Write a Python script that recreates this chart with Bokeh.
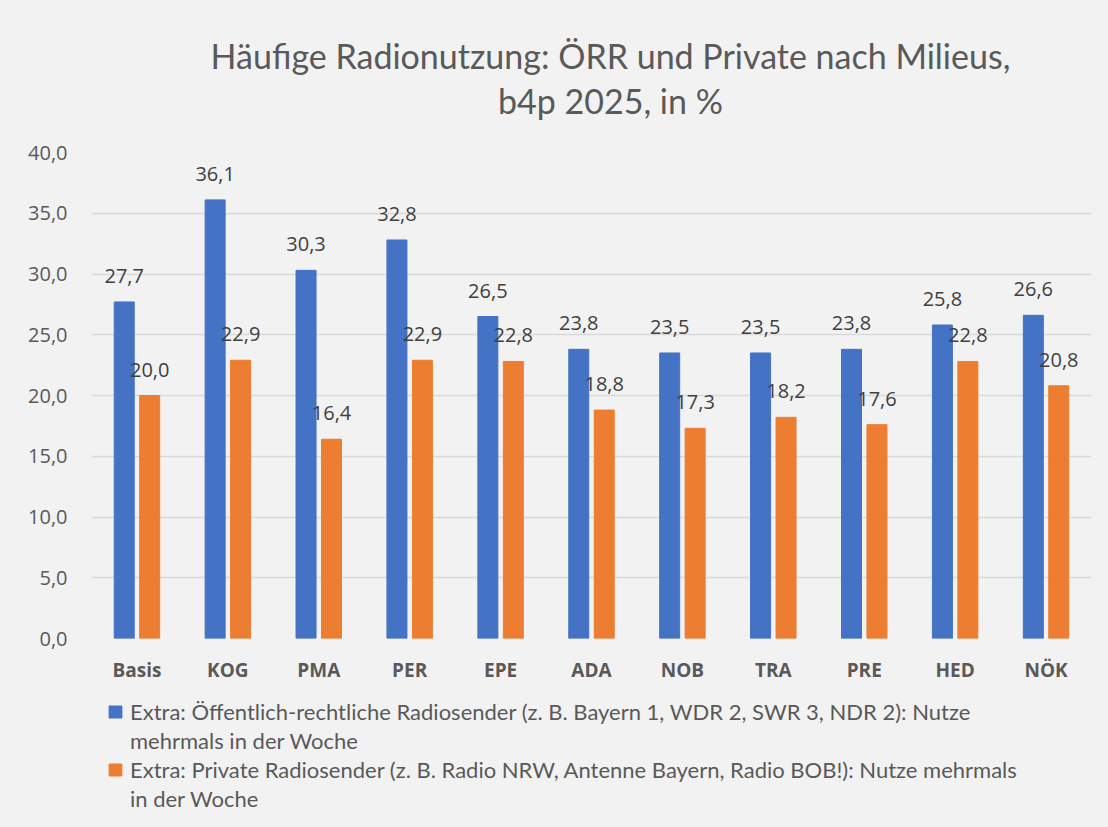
from bokeh.plotting import figure
from bokeh.models import ColumnDataSource, FactorRange, FixedTicker, Legend, LegendItem, Label
from bokeh.layouts import column
from bokeh.transform import dodge
from bokeh.embed import file_html
from bokeh.resources import INLINE
from bokeh.core.properties import value

categories = ["Basis", "KOG", "PMA", "PER", "EPE", "ADA", "NOB", "TRA", "PRE", "HED", "NÖK"]
oerr = [27.7, 36.1, 30.3, 32.8, 26.5, 23.8, 23.5, 23.5, 23.8, 25.8, 26.6]
private = [20.0, 22.9, 16.4, 22.9, 22.8, 18.8, 17.3, 18.2, 17.6, 22.8, 20.8]
y_ticks = [0, 5, 10, 15, 20, 25, 30, 35, 40]
y_tick_labels = ["0,0", "5,0", "10,0", "15,0", "20,0", "25,0", "30,0", "35,0", "40,0"]
series_lines = [
    ["Extra: Öffentlich-rechtliche Radiosender (z. B. Bayern 1, WDR 2, SWR 3, NDR 2): Nutze",
     "mehrmals in der Woche"],
    ["Extra: Private Radiosender (z. B. Radio NRW, Antenne Bayern, Radio BOB!): Nutze mehrmals",
     "in der Woche"],
]
title_lines = ["Häufige Radionutzung: ÖRR und Private nach Milieus,", "b4p 2025, in %"]

def fmt(v):
    return f"{v:.1f}".replace(".", ",")

src = ColumnDataSource(dict(
    cat=categories,
    oerr=oerr,
    private=private,
    oerr_lbl=[fmt(v) for v in oerr],
    private_lbl=[fmt(v) for v in private],
))

BG = "#f2f2f2"
TXT = "#595959"
BLUE = "#4472C4"
ORANGE = "#ED7D31"
W = 1108

def strip(h):
    f = figure(width=W, height=h, x_range=(0, 1), y_range=(0, h),
               output_backend="svg", toolbar_location=None,
               min_border=0, min_border_left=0, min_border_right=0,
               min_border_top=0, min_border_bottom=0)
    f.background_fill_color = BG
    f.border_fill_color = BG
    f.outline_line_color = None
    f.axis.visible = False
    f.grid.visible = False
    f.styles = {"background-color": BG}
    return f

# ---- title strip
p0 = strip(120)
for txt, yy in zip(title_lines, [65, 20]):
    p0.add_layout(Label(x=0.519, y=yy, text=txt, text_align="center", text_baseline="alphabetic",
                        text_font="Lato", text_font_size="34px", text_color=TXT))

# ---- main chart
p = figure(
    x_range=FactorRange(*categories, range_padding=0),
    y_range=(0, 40),
    width=W, height=578,
    output_backend="svg", toolbar_location=None,
    min_border_left=91, min_border_right=17, min_border_top=32, min_border_bottom=60,
)
p.background_fill_color = BG
p.border_fill_color = BG
p.outline_line_color = None
p.styles = {"background-color": BG}

r1 = p.vbar(x=dodge("cat", -0.14, range=p.x_range), top="oerr", width=0.22, source=src,
            fill_color=BLUE, line_color=BLUE)
r2 = p.vbar(x=dodge("cat", 0.14, range=p.x_range), top="private", width=0.22, source=src,
            fill_color=ORANGE, line_color=ORANGE)

p.text(x=dodge("cat", -0.14, range=p.x_range), y="oerr", text="oerr_lbl", source=src,
       text_align="center", text_baseline="middle", y_offset=-26,
       text_font=value("Open Sans"), text_font_size="20px", text_color="#404040")
p.text(x=dodge("cat", 0.14, range=p.x_range), y="private", text="private_lbl", source=src,
       text_align="center", text_baseline="middle", y_offset=-26,
       text_font=value("Open Sans"), text_font_size="20px", text_color="#404040")

p.xgrid.grid_line_color = None
p.ygrid.grid_line_color = "#d9d9d9"
p.ygrid.grid_line_width = 1.5
p.yaxis.ticker = FixedTicker(ticks=y_ticks)

p.yaxis.major_label_overrides = {t: l for t, l in zip(y_ticks, y_tick_labels)}
p.yaxis.axis_line_color = None
p.yaxis.major_tick_line_color = None
p.yaxis.minor_tick_line_color = None
p.yaxis.major_label_standoff = 18
p.yaxis.major_label_text_font = "Open Sans"
p.yaxis.major_label_text_font_size = "20px"
p.yaxis.major_label_text_color = TXT

p.xaxis.axis_line_color = None
p.xaxis.major_tick_line_color = None
p.xaxis.major_label_standoff = 12
p.xaxis.major_label_text_font = "Open Sans"
p.xaxis.major_label_text_font_size = "19px"
p.xaxis.major_label_text_font_style = "bold"
p.xaxis.major_label_text_color = TXT

# ---- legend strip
p2 = strip(129)
d1 = p2.vbar(x=[-10], top=[-10], width=0.5, fill_color=BLUE, line_color=BLUE)
d2 = p2.vbar(x=[-10], top=[-10], width=0.5, fill_color=ORANGE, line_color=ORANGE)
items = [
    LegendItem(label=series_lines[0][0], renderers=[d1]),
    LegendItem(label=series_lines[0][1], renderers=[]),
    LegendItem(label=series_lines[1][0], renderers=[d2]),
    LegendItem(label=series_lines[1][1], renderers=[]),
]
legend = Legend(items=items, location=(16, 15), orientation="vertical")
legend.background_fill_alpha = 0
legend.border_line_color = None
legend.label_text_font = "Lato"
legend.label_text_font_size = "22px"
legend.label_text_color = TXT
legend.glyph_width = 16
legend.glyph_height = 15
legend.padding = 0
legend.margin = 0
legend.spacing = 2
legend.label_standoff = 7
p2.add_layout(legend, "center")

layout = column(p0, p, p2, spacing=0)
layout.styles = {"background-color": BG}
open("out.html", "w").write(file_html(layout, INLINE))
